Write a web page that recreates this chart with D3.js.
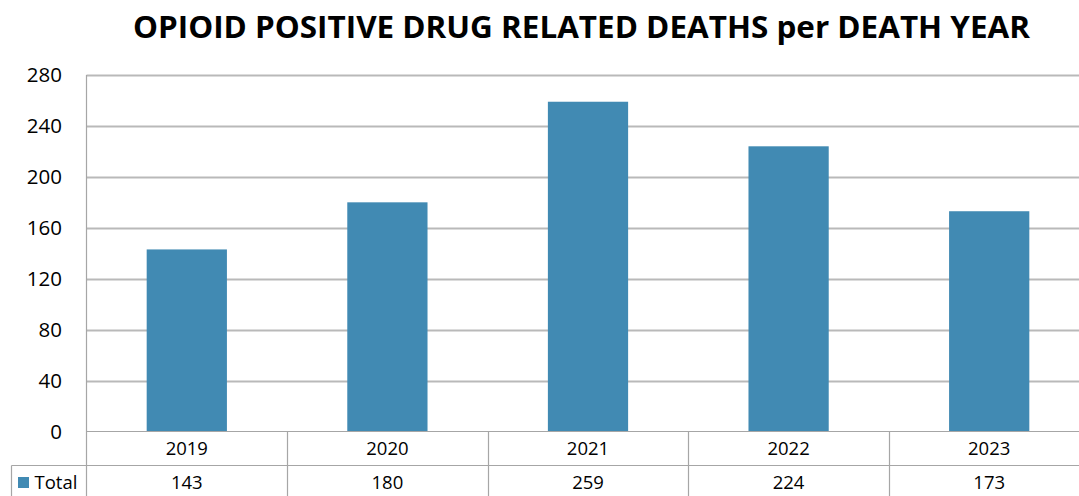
<!DOCTYPE html>
<html><head><meta charset="utf-8">
<script src="https://cdn.jsdelivr.net/npm/d3@7"></script>
<style>body{margin:0;background:#fff;}svg{display:block;font-family:"Open Sans",sans-serif;}</style>
</head><body><svg id="c" width="1079" height="496"></svg>
<script>
const title = "OPIOID POSITIVE DRUG RELATED DEATHS per DEATH YEAR";
const years = ["2019","2020","2021","2022","2023"];
const totals = [143,180,259,224,173];
const yTicks = [0,40,80,120,160,200,240,280];
const seriesName = "Total";

(function(){
const svg = d3.select("#c");
const W = 1079, H = 496;
const pLeft = 86.5, pRight = 1089.5, pTop = 75, pBottom = 431.5;
const rowH = 34;
const barColor = "#418ab3", gridColor = "#b9b9b9", lineColor = "#a6a6a6";

const x = d3.scaleBand().domain(years).range([pLeft, pRight]).padding(0);
const y = d3.scaleLinear().domain([0,280]).range([pBottom, pTop]);

svg.append("text").attr("x", 133).attr("y", 38).attr("font-size", 31).attr("font-weight", "bold")
  .attr("textLength", 897).attr("lengthAdjust", "spacingAndGlyphs").attr("fill", "#000").text(title);

svg.append("g").selectAll("line").data(yTicks.filter(d=>d>0)).join("line")
  .attr("x1", pLeft).attr("x2", W).attr("y1", d=>Math.round(y(d))+0.5).attr("y2", d=>Math.round(y(d))+0.5)
  .attr("stroke", gridColor).attr("stroke-width", 2);

svg.append("g").selectAll("text").data(yTicks).join("text")
  .attr("x", 62).attr("y", d=>y(d)).attr("dy", "0.35em").attr("text-anchor", "end")
  .attr("font-size", 20.5).attr("fill", "#000").text(d=>d);

const bw = x.bandwidth()*0.4;
svg.append("g").selectAll("rect").data(totals).join("rect")
  .attr("x", (d,i)=>x(years[i]) + (x.bandwidth()-bw)/2)
  .attr("width", bw)
  .attr("y", d=>y(d)).attr("height", d=>y(0)-y(d))
  .attr("fill", barColor);

const g = svg.append("g").attr("stroke", lineColor).attr("stroke-width", 1.2);
g.append("line").attr("x1", pLeft).attr("x2", W).attr("y1", pBottom).attr("y2", pBottom);
g.append("line").attr("x1", 11.5).attr("x2", W).attr("y1", pBottom+rowH).attr("y2", pBottom+rowH);
g.append("line").attr("x1", pLeft).attr("x2", pLeft).attr("y1", pTop).attr("y2", H);
g.append("line").attr("x1", 11.5).attr("x2", 11.5).attr("y1", pBottom+rowH).attr("y2", H);
g.selectAll(".v").data(years.slice(1)).join("line").attr("class","v")
  .attr("x1", d=>Math.round(x(d))+0.5).attr("x2", d=>Math.round(x(d))+0.5)
  .attr("y1", pBottom).attr("y2", H);

svg.append("g").selectAll("text").data(years).join("text")
  .attr("x", d=>x(d)+x.bandwidth()/2).attr("y", pBottom+rowH/2).attr("dy","0.35em")
  .attr("text-anchor","middle").attr("font-size",18.5).attr("fill","#000").text(d=>d);

svg.append("g").selectAll("text").data(totals).join("text")
  .attr("x", (d,i)=>x(years[i])+x.bandwidth()/2).attr("y", pBottom+rowH+17).attr("dy","0.35em")
  .attr("text-anchor","middle").attr("font-size",18.5).attr("fill","#000").text(d=>d);

svg.append("rect").attr("x", 18).attr("y", 477).attr("width", 11).attr("height", 11).attr("fill", barColor);
svg.append("text").attr("x", 34.5).attr("y", pBottom+rowH+17).attr("dy","0.35em")
  .attr("font-size",18.5).attr("fill","#000").text(seriesName);
})();
</script></body></html>
